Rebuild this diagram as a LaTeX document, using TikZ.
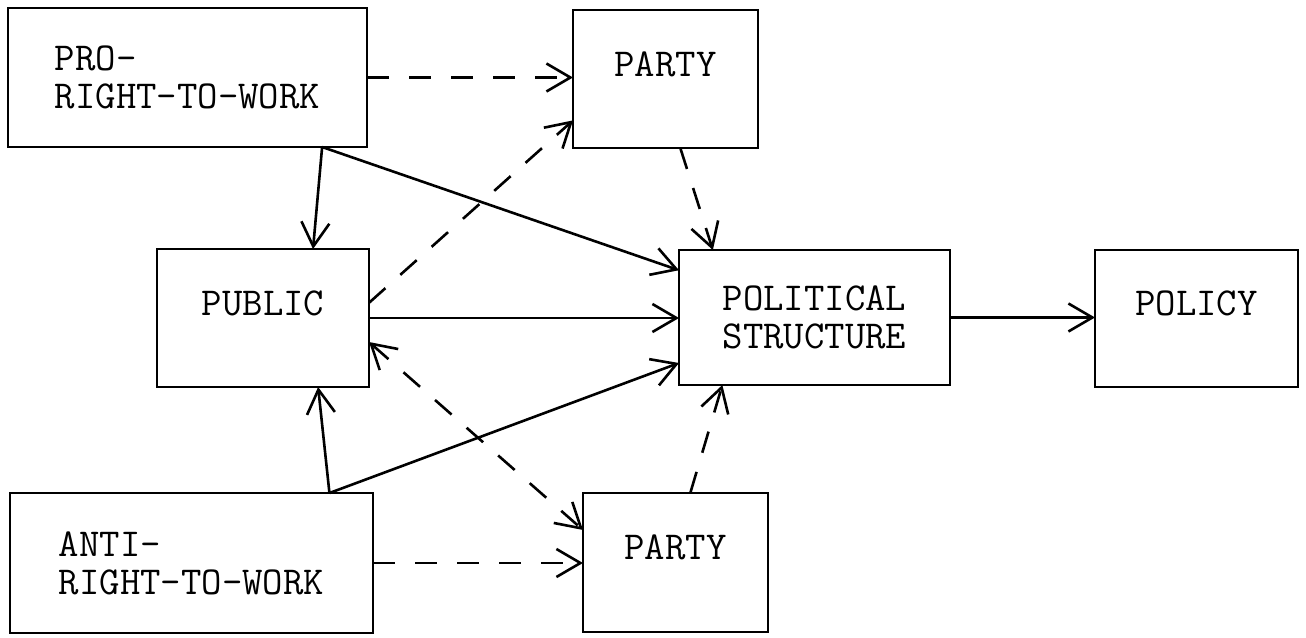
\documentclass[tikz,border=0pt]{standalone}
\usetikzlibrary{arrows.meta,calc}
\begin{document}
\begin{tikzpicture}[x=0.5pt,y=-0.5pt,
  box/.style={draw,line width=1pt,rectangle,inner sep=0pt,outer sep=0pt,
    font=\ttfamily\fontsize{19.8}{19}\selectfont,align=left},
  single/.style={text height=12pt,text depth=15pt},
  conn/.style={line width=1.3pt,-{Straight Barb[length=12pt,width=14pt,line width=1.3pt]}},
  dconn/.style={conn,dash pattern=on 11pt off 10pt},
  ddconn/.style={line width=1.3pt,dash pattern=on 11pt off 10pt,
    {Straight Barb[length=12pt,width=14pt,line width=1.3pt]}-{Straight Barb[length=12pt,width=14pt,line width=1.3pt]}}]
\useasboundingbox[fill=white] (0,0) rectangle (1306,637);

\node[box,minimum width=179.5pt,minimum height=69.5pt] (pro) at (187.5,77.5) {PRO-\\RIGHT-TO-WORK};
\node[box,single,minimum width=92.5pt,minimum height=69pt] (partyT) at (665.5,79) {PARTY};
\node[box,single,minimum width=106pt,minimum height=69pt] (public) at (263,318) {PUBLIC};
\node[box,minimum width=135.5pt,minimum height=67.5pt] (pols) at (814.5,317.5) {POLITICAL\\STRUCTURE};
\node[box,single,minimum width=101.5pt,minimum height=68.5pt] (policy) at (1196.5,318.5) {POLICY};
\node[box,minimum width=181.5pt,minimum height=70pt] (anti) at (191.5,563) {ANTI-\\RIGHT-TO-WORK};
\node[box,single,minimum width=92.5pt,minimum height=69.5pt] (partyB) at (675.5,562.5) {PARTY};

% dashed influences on top party
\draw[dconn] (pro.east) -- (pro.east -| partyT.west);
\draw[dconn] ($(public.north east)!0.39!(public.south east)$) -- ($(partyT.north west)!0.8!(partyT.south west)$);
% pro group solid arrows
\draw[conn] ($(pro.south west)!0.875!(pro.south east)$) -- ($(public.north west)!0.736!(public.north east)$);
\draw[conn] ($(pro.south west)!0.875!(pro.south east)$) -- ($(pols.north west)!0.15!(pols.south west)$);
% top party to political structure
\draw[dconn] ($(partyT.south west)!0.58!(partyT.south east)$) -- ($(pols.north west)!0.125!(pols.north east)$);
% public to political structure
\draw[conn] (public.east) -- (public.east -| pols.west);
% political structure to policy
\draw[conn] (pols.east) -- (pols.east -| policy.west);
% anti group solid arrows
\draw[conn] ($(anti.north west)!0.88!(anti.north east)$) -- ($(public.south west)!0.76!(public.south east)$);
\draw[conn] ($(anti.north west)!0.88!(anti.north east)$) -- ($(pols.north west)!0.837!(pols.south west)$);
% public <-> bottom party
\draw[ddconn] ($(public.north east)!0.674!(public.south east)$) -- ($(partyB.north west)!0.266!(partyB.south west)$);
% bottom party to political structure
\draw[dconn] ($(partyB.north west)!0.58!(partyB.north east)$) -- ($(pols.south west)!0.16!(pols.south east)$);
% anti to bottom party
\draw[dconn] (anti.east) -- (anti.east -| partyB.west);
\end{tikzpicture}
\end{document}
